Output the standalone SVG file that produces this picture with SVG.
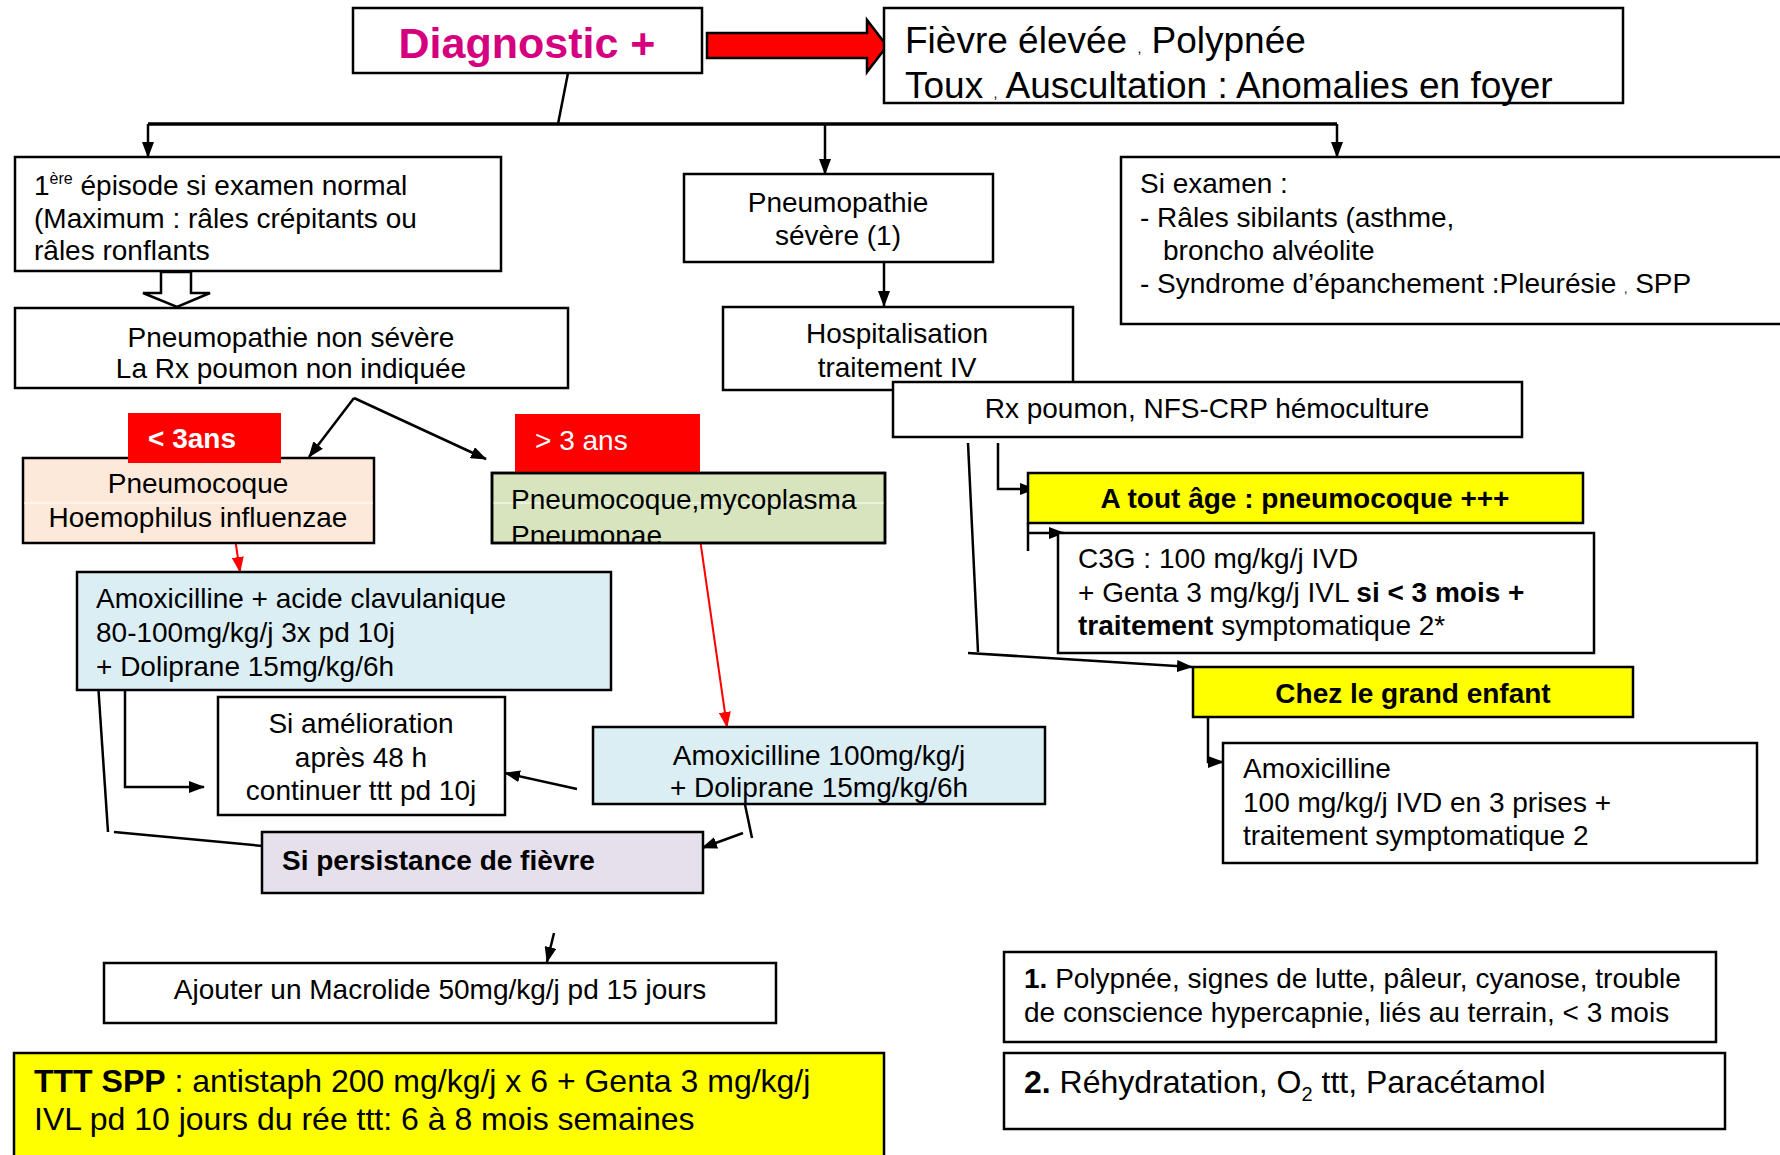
<svg xmlns="http://www.w3.org/2000/svg" width="1780" height="1155" viewBox="0 0 1780 1155">
<style>
text{font-family:"Liberation Sans",Arial,sans-serif;font-size:28px;fill:#000}
.b{font-weight:bold}
.box{fill:#fff;stroke:#000;stroke-width:2.5}
.c{text-anchor:middle}
.ln{fill:none;stroke:#000;stroke-width:2.5}
.red{fill:none;stroke:#f00;stroke-width:2}
</style>
<defs>
<marker id="ah" viewBox="0 0 16 12" markerWidth="16" markerHeight="12" refX="15" refY="6" orient="auto" markerUnits="userSpaceOnUse"><path d="M0,0 L16,6 L0,12 Z" fill="#000"/></marker>
<marker id="rah" viewBox="0 0 16 12" markerWidth="16" markerHeight="12" refX="15" refY="6" orient="auto" markerUnits="userSpaceOnUse"><path d="M0,0 L16,6 L0,12 Z" fill="#f00"/></marker>
<clipPath id="gclip"><rect x="492" y="473" width="393" height="70"/></clipPath>
</defs>

<g id="connectors">
<line class="ln" x1="568" y1="73" x2="558" y2="124"/>
<path d="M148,124 H1337" fill="none" stroke="#000" stroke-width="3.5"/>
<line class="ln" x1="148" y1="124" x2="148" y2="157" marker-end="url(#ah)"/>
<line class="ln" x1="825" y1="124" x2="825" y2="174" marker-end="url(#ah)"/>
<line class="ln" x1="1337" y1="124" x2="1337" y2="157" marker-end="url(#ah)"/>
<polygon points="161,272 191,272 191,293 210,293 177,307 143,293 161,293" fill="#fff" stroke="#000" stroke-width="2.5"/>
<line class="ln" x1="884" y1="262" x2="884" y2="306" marker-end="url(#ah)"/>
<line class="ln" x1="354" y1="398" x2="309" y2="457" marker-end="url(#ah)"/>
<line class="ln" x1="354" y1="398" x2="486" y2="459" marker-end="url(#ah)"/>
<line class="red" x1="232" y1="518" x2="240" y2="572" marker-end="url(#rah)"/>
<line class="red" x1="697" y1="518" x2="727" y2="727" marker-end="url(#rah)"/>
<path class="ln" d="M125,690 V787 H204" marker-end="url(#ah)"/>
<line class="ln" x1="98" y1="683" x2="108" y2="832"/>
<line class="ln" x1="114" y1="832" x2="263" y2="846"/>
<line class="ln" x1="577" y1="789" x2="505" y2="773" marker-end="url(#ah)"/>
<line class="ln" x1="743" y1="795" x2="752" y2="838"/>
<line class="ln" x1="743" y1="833" x2="702" y2="848" marker-end="url(#ah)"/>
<line class="ln" x1="554" y1="933" x2="547" y2="962" marker-end="url(#ah)"/>
<path class="ln" d="M998,443 V489 H1035" marker-end="url(#ah)"/>
<path class="ln" d="M1028,523 V551"/>
<path class="ln" d="M1028,533 H1064" marker-end="url(#ah)"/>
<line class="ln" x1="968" y1="443" x2="978" y2="652"/>
<line class="ln" x1="968" y1="653" x2="1192" y2="667" marker-end="url(#ah)"/>
<path class="ln" d="M1208,713 V762 H1223" marker-end="url(#ah)"/>
</g>

<g id="diagnostic">
<rect class="box" x="353" y="8" width="349" height="65"/>
<text x="527" y="58" class="b c" style="font-size:43px;fill:#d5007f">Diagnostic +</text>
</g>

<g id="big-arrow">
<polygon points="707,33 867,33 867,20 887,46 867,72 867,58 707,58" fill="#f00" stroke="#000" stroke-width="2.5"/>
</g>

<g id="signes">
<rect class="box" x="884" y="8" width="739" height="95"/>
<text x="905" y="53" style="font-size:37px">Fièvre élevée <tspan style="font-size:14px">,</tspan> Polypnée</text>
<text x="905" y="98" style="font-size:37px">Toux <tspan style="font-size:14px">,</tspan> Auscultation : Anomalies en foyer</text>
</g>

<g id="premier-episode">
<rect class="box" x="15" y="157" width="486" height="114"/>
<text x="34" y="195">1<tspan dy="-11" style="font-size:16px">ère</tspan><tspan dy="11"> épisode si examen normal</tspan></text>
<text x="34" y="228">(Maximum : râles crépitants ou</text>
<text x="34" y="260">râles ronflants</text>
</g>

<g id="non-severe">
<rect class="box" x="15" y="308" width="553" height="80"/>
<text x="291" y="347" class="c">Pneumopathie non sévère</text>
<text x="291" y="378" class="c">La Rx poumon non indiquée</text>
</g>

<g id="severe">
<rect class="box" x="684" y="174" width="309" height="88"/>
<text x="838" y="212" class="c">Pneumopathie</text>
<text x="838" y="245" class="c">sévère (1)</text>
</g>

<g id="si-examen">
<rect class="box" x="1121" y="157" width="670" height="167"/>
<text x="1140" y="193">Si examen :</text>
<text x="1140" y="227">- Râles sibilants (asthme,</text>
<text x="1163" y="260">broncho alvéolite</text>
<text x="1140" y="293">- Syndrome d’épanchement :Pleurésie <tspan style="font-size:12px">,</tspan> SPP</text>
</g>

<g id="hospitalisation">
<rect class="box" x="723" y="307" width="350" height="83"/>
<text x="897" y="343" class="c">Hospitalisation</text>
<text x="897" y="377" class="c">traitement IV</text>
</g>

<g id="rx">
<rect class="box" x="893" y="382" width="629" height="55"/>
<text x="1207" y="418" class="c">Rx poumon, NFS-CRP hémoculture</text>
</g>

<g id="moins-3ans">
<rect class="box" x="23" y="458" width="351" height="85" style="fill:#fde9d9"/>
<line x1="24" y1="503" x2="373" y2="503" stroke="#fff" stroke-width="1"/>
<rect x="128" y="413" width="153" height="50" fill="#f00"/>
<text x="148" y="448" class="b" style="fill:#fff">&lt; 3ans</text>
<text x="198" y="493" class="c">Pneumocoque</text>
<text x="198" y="527" class="c">Hoemophilus influenzae</text>
</g>

<g id="plus-3ans">
<rect class="box" x="492" y="473" width="393" height="70" style="fill:#d7e4bd"/>
<line x1="493" y1="503" x2="884" y2="503" stroke="#fff" stroke-width="1"/>
<rect x="515" y="414" width="185" height="59" fill="#f00"/>
<text x="535" y="450" style="fill:#fff">&gt; 3 ans</text>
<g clip-path="url(#gclip)">
<text x="511" y="509">Pneumocoque,mycoplasma</text>
<text x="511" y="545">Pneumonae</text>
</g>
<rect x="492" y="473" width="393" height="70" fill="none" stroke="#000" stroke-width="2.5"/>
</g>

<g id="amox-clav">
<rect class="box" x="77" y="572" width="534" height="118" style="fill:#dbeef4"/>
<text x="96" y="608">Amoxicilline + acide clavulanique</text>
<text x="96" y="642">80-100mg/kg/j 3x pd 10j</text>
<text x="96" y="676">+ Doliprane 15mg/kg/6h</text>
</g>

<g id="amelioration">
<rect class="box" x="218" y="697" width="287" height="118"/>
<text x="361" y="733" class="c">Si amélioration</text>
<text x="361" y="767" class="c">après 48 h</text>
<text x="361" y="800" class="c">continuer ttt pd 10j</text>
</g>

<g id="amox-100">
<rect class="box" x="593" y="727" width="452" height="77" style="fill:#dbeef4"/>
<text x="819" y="765" class="c">Amoxicilline 100mg/kg/j</text>
<text x="819" y="797" class="c">+ Doliprane 15mg/kg/6h</text>
</g>

<g id="persistance">
<rect class="box" x="262" y="832" width="441" height="61" style="fill:#e5e0ec"/>
<text x="282" y="870" class="b">Si persistance de fièvre</text>
</g>

<g id="macrolide">
<rect class="box" x="104" y="963" width="672" height="60"/>
<text x="440" y="999" class="c">Ajouter un Macrolide 50mg/kg/j pd 15 jours</text>
</g>

<g id="ttt-spp">
<rect class="box" x="14" y="1053" width="870" height="115" style="fill:#ff0"/>
<text x="34" y="1092" style="font-size:32px"><tspan class="b">TTT SPP</tspan> : antistaph 200 mg/kg/j x 6 + Genta 3 mg/kg/j</text>
<text x="34" y="1130" style="font-size:32px">IVL pd 10 jours du rée ttt: 6 à 8 mois semaines</text>
</g>

<g id="tout-age">
<rect class="box" x="1028" y="473" width="555" height="50" style="fill:#ff0"/>
<text x="1305" y="508" class="b c">A tout âge : pneumocoque +++</text>
</g>

<g id="c3g">
<rect class="box" x="1058" y="533" width="536" height="120"/>
<text x="1078" y="568">C3G : 100 mg/kg/j IVD</text>
<text x="1078" y="602">+ Genta 3 mg/kg/j IVL <tspan class="b">si &lt; 3 mois +</tspan></text>
<text x="1078" y="635"><tspan class="b">traitement</tspan> symptomatique 2*</text>
</g>

<g id="grand-enfant">
<rect class="box" x="1193" y="667" width="440" height="50" style="fill:#ff0"/>
<text x="1413" y="703" class="b c">Chez le grand enfant</text>
</g>

<g id="amox-grand">
<rect class="box" x="1223" y="743" width="534" height="120"/>
<text x="1243" y="778">Amoxicilline</text>
<text x="1243" y="812">100 mg/kg/j IVD en 3 prises +</text>
<text x="1243" y="845">traitement symptomatique 2</text>
</g>

<g id="note-1">
<rect class="box" x="1004" y="952" width="712" height="90"/>
<text x="1024" y="988"><tspan class="b">1.</tspan> Polypnée, signes de lutte, pâleur, cyanose, trouble</text>
<text x="1024" y="1022">de conscience hypercapnie, liés au terrain, &lt; 3 mois</text>
</g>

<g id="note-2">
<rect class="box" x="1004" y="1053" width="721" height="76"/>
<text x="1024" y="1093" style="font-size:32px"><tspan class="b">2.</tspan> Réhydratation, O<tspan dy="8" style="font-size:20px">2</tspan><tspan dy="-8"> ttt, Paracétamol</tspan></text>
</g>
</svg>
